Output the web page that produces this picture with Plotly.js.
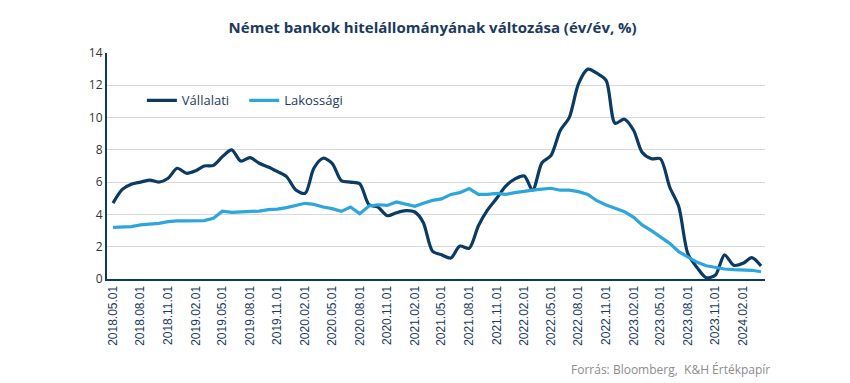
<!DOCTYPE html>
<html>
<head>
<meta charset="utf-8">
<script src="https://cdn.plot.ly/plotly-3.0.1.min.js"></script>
<style>html,body{margin:0;padding:0;background:#fff;}#chart{width:850px;height:383px;}</style>
</head>
<body>
<div id="chart"></div>
<script>
const startMonth = "2018-05-01";
const nMonths = 72;
const vallalati = [4.7,5.55,5.87,6.0,6.13,6.0,6.24,6.86,6.55,6.71,7.0,7.04,7.58,8.0,7.31,7.52,7.17,6.94,6.65,6.34,5.51,5.31,6.86,7.48,7.17,6.09,6.0,5.9,4.6,4.45,3.92,4.1,4.23,4.15,3.5,1.72,1.5,1.3,2.04,1.9,3.3,4.27,5.0,5.75,6.2,6.38,5.5,7.2,7.65,9.2,10.0,12.1,13.0,12.75,12.3,9.65,9.9,9.2,7.85,7.45,7.45,5.7,4.5,1.55,0.7,0.08,0.25,1.49,0.85,0.97,1.32,0.8];
const lakossagi = [3.2,3.23,3.25,3.35,3.38,3.45,3.55,3.6,3.6,3.6,3.62,3.76,4.2,4.13,4.15,4.19,4.21,4.3,4.33,4.42,4.56,4.69,4.62,4.46,4.36,4.19,4.46,4.05,4.52,4.6,4.56,4.77,4.64,4.5,4.69,4.87,4.96,5.24,5.35,5.6,5.24,5.24,5.3,5.24,5.35,5.45,5.51,5.57,5.62,5.5,5.5,5.41,5.24,4.85,4.58,4.38,4.17,3.82,3.35,3.0,2.62,2.21,1.69,1.34,1.03,0.82,0.7,0.62,0.58,0.56,0.54,0.45];
const seriesNames = ["Vállalati", "Lakossági"];
const yTicks = [0,2,4,6,8,10,12,14];

// build monthly date strings
const dates = [];
for (let i = 0; i < nMonths; i++) {
  const y = 2018 + Math.floor((4 + i) / 12);
  const m = ((4 + i) % 12) + 1;
  dates.push(y + "-" + String(m).padStart(2, "0") + "-01");
}

const pad = "\u00a0\u00a0\u00a0";
const traces = [
  {x: dates, y: vallalati, name: seriesNames[0] + pad, type: "scatter", mode: "lines",
   line: {color: "#0b3a63", width: 3.2, shape: "spline", smoothing: 0.8}},
  {x: dates, y: lakossagi, name: seriesNames[1], type: "scatter", mode: "lines",
   line: {color: "#2ea6dc", width: 3.2}}
];

const layout = {
  width: 850, height: 383,
  margin: {l: 107, r: 85, t: 53, b: 104},
  paper_bgcolor: "#fff", plot_bgcolor: "#fff",
  title: {text: "<b>Német bankok hitelállományának változása (év/év, %)</b>",
          font: {family: "Open Sans, sans-serif", size: 15, color: "#1d3a5c"},
          x: 0.509, xanchor: "center", y: 0.928, yanchor: "middle"},
  xaxis: {type: "date", range: ["2018-04-11", "2024-04-14"],
          tick0: startMonth, dtick: "M3", tickformat: "%Y.%m.%d",
          tickangle: -90, showgrid: false, ticks: "",
          showline: true, linecolor: "#0b3a63", linewidth: 2,
          tickfont: {family: "Liberation Sans, Arial, sans-serif", size: 12, color: "#1d3a5c"},
          zeroline: false, fixedrange: true},
  yaxis: {range: [0, 14], tickvals: yTicks, ticktext: yTicks.map(String),
          showgrid: true, gridcolor: "#d9d9d9", gridwidth: 1,
          showline: true, linecolor: "#0b3a63", linewidth: 2,
          ticks: "", ticklen: 0,
          tickfont: {family: "Open Sans, sans-serif", size: 12, color: "#333"},
          zeroline: false, fixedrange: true},
  legend: {orientation: "h", x: 0.053, y: 0.79, xanchor: "left", yanchor: "middle",
           bgcolor: "rgba(0,0,0,0)", font: {family: "Open Sans, sans-serif", size: 13, color: "#1d3a5c"},
           itemwidth: 30, tracegroupgap: 0},
  showlegend: true,
  annotations: [{text: "Forrás: Bloomberg,  K&H Értékpapír", xref: "paper", yref: "paper",
                 x: 1.01, y: -0.40, xanchor: "right", yanchor: "middle", showarrow: false,
                 font: {family: "Open Sans, sans-serif", size: 12, color: "#8c8c8c"}}]
};

Plotly.newPlot("chart", traces, layout, {displayModeBar: false, staticPlot: true});
</script>
</body>
</html>
